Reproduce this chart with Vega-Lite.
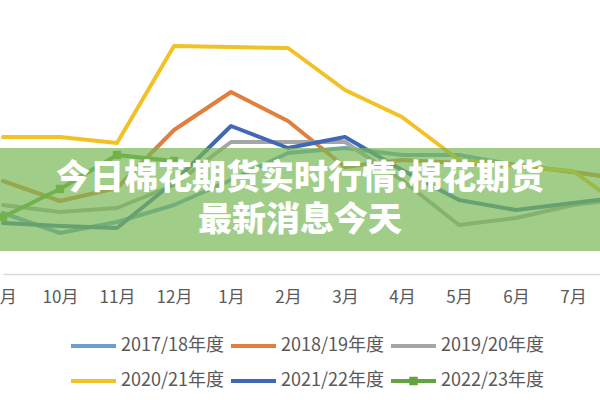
{
  "$schema": "https://vega.github.io/schema/vega-lite/v6.json",
  "width": 600,
  "height": 274,
  "autosize": {"type": "none"},
  "padding": {"left": 0, "top": 0, "right": 0, "bottom": 126},
  "background": "white",
  "config": {"view": {"stroke": null}, "font": "Noto Sans CJK SC"},
  "data": {
    "values": [
      {"season": "2017/18年度", "month": "9月", "value": 13050},
      {"season": "2017/18年度", "month": "10月", "value": 12050},
      {"season": "2017/18年度", "month": "11月", "value": 12600},
      {"season": "2017/18年度", "month": "12月", "value": 13450},
      {"season": "2017/18年度", "month": "1月", "value": 14700},
      {"season": "2017/18年度", "month": "2月", "value": 16050},
      {"season": "2017/18年度", "month": "3月", "value": 16300},
      {"season": "2017/18年度", "month": "4月", "value": 15950},
      {"season": "2017/18年度", "month": "5月", "value": 15950},
      {"season": "2017/18年度", "month": "6月", "value": 15450},
      {"season": "2017/18年度", "month": "7月", "value": 15100},
      {"season": "2017/18年度", "month": "8月", "value": 14700},
      {"season": "2018/19年度", "month": "9月", "value": 14650},
      {"season": "2018/19年度", "month": "10月", "value": 13650},
      {"season": "2018/19年度", "month": "11月", "value": 14300},
      {"season": "2018/19年度", "month": "12月", "value": 17200},
      {"season": "2018/19年度", "month": "1月", "value": 19100},
      {"season": "2018/19年度", "month": "2月", "value": 17650},
      {"season": "2018/19年度", "month": "3月", "value": 15350},
      {"season": "2018/19年度", "month": "4月", "value": 15700},
      {"season": "2018/19年度", "month": "5月", "value": 15550},
      {"season": "2018/19年度", "month": "6月", "value": 15450},
      {"season": "2018/19年度", "month": "7月", "value": 15100},
      {"season": "2018/19年度", "month": "8月", "value": 14700},
      {"season": "2019/20年度", "month": "9月", "value": 13450},
      {"season": "2019/20年度", "month": "10月", "value": 13100},
      {"season": "2019/20年度", "month": "11月", "value": 13300},
      {"season": "2019/20年度", "month": "12月", "value": 14450},
      {"season": "2019/20年度", "month": "1月", "value": 16600},
      {"season": "2019/20年度", "month": "2月", "value": 16600},
      {"season": "2019/20年度", "month": "3月", "value": 16600},
      {"season": "2019/20年度", "month": "4月", "value": 14700},
      {"season": "2019/20年度", "month": "5月", "value": 12450},
      {"season": "2019/20年度", "month": "6月", "value": 12800},
      {"season": "2019/20年度", "month": "7月", "value": 13450},
      {"season": "2019/20年度", "month": "8月", "value": 13800},
      {"season": "2020/21年度", "month": "9月", "value": 16850},
      {"season": "2020/21年度", "month": "10月", "value": 16850},
      {"season": "2020/21年度", "month": "11月", "value": 16550},
      {"season": "2020/21年度", "month": "12月", "value": 21400},
      {"season": "2020/21年度", "month": "1月", "value": 21350},
      {"season": "2020/21年度", "month": "2月", "value": 21300},
      {"season": "2020/21年度", "month": "3月", "value": 19200},
      {"season": "2020/21年度", "month": "4月", "value": 17850},
      {"season": "2020/21年度", "month": "5月", "value": 15700},
      {"season": "2020/21年度", "month": "6月", "value": 15400},
      {"season": "2020/21年度", "month": "7月", "value": 15150},
      {"season": "2020/21年度", "month": "8月", "value": 13100},
      {"season": "2021/22年度", "month": "9月", "value": 12550},
      {"season": "2021/22年度", "month": "10月", "value": 12400},
      {"season": "2021/22年度", "month": "11月", "value": 12300},
      {"season": "2021/22年度", "month": "12月", "value": 14600},
      {"season": "2021/22年度", "month": "1月", "value": 17400},
      {"season": "2021/22年度", "month": "2月", "value": 16300},
      {"season": "2021/22年度", "month": "3月", "value": 16850},
      {"season": "2021/22年度", "month": "4月", "value": 15200},
      {"season": "2021/22年度", "month": "5月", "value": 13700},
      {"season": "2021/22年度", "month": "6月", "value": 13200},
      {"season": "2021/22年度", "month": "7月", "value": 13550},
      {"season": "2021/22年度", "month": "8月", "value": 13900},
      {"season": "2022/23年度", "month": "9月", "value": 12850},
      {"season": "2022/23年度", "month": "10月", "value": 14250},
      {"season": "2022/23年度", "month": "11月", "value": 15950},
      {"season": "2022/23年度", "month": "12月", "value": 15650}
    ]
  },
  "layer": [
    {
      "mark": {"type": "line", "strokeWidth": 4, "strokeCap": "round", "strokeJoin": "round"},
      "encoding": {
        "x": {
          "field": "month",
          "type": "ordinal",
          "scale": {"type": "point", "domain": ["9月", "10月", "11月", "12月", "1月", "2月", "3月", "4月", "5月", "6月", "7月", "8月"], "range": [3, 630], "padding": 0},
          "axis": {"title": null, "domainColor": "#d9d9d9", "domainWidth": 1.5, "ticks": false, "grid": false, "labelFontSize": 17, "labelColor": "#595959", "labelPadding": 15, "labelAngle": 0, "labelOverlap": false, "labelFlush": false}
        },
        "y": {
          "field": "value",
          "type": "quantitative",
          "scale": {"domain": [10000, 23700], "nice": false, "zero": false},
          "axis": null
        },
        "color": {
          "field": "season",
          "type": "nominal",
          "scale": {
            "domain": ["2017/18年度", "2018/19年度", "2019/20年度", "2020/21年度", "2021/22年度", "2022/23年度"],
            "range": ["#6a9fcf", "#e07f3e", "#a5a5a5", "#f2c125", "#4168b4", "#64a33f"]
          },
          "legend": {
            "title": null,
            "orient": "none",
            "legendX": 69,
            "legendY": 337,
            "direction": "horizontal",
            "columns": 3,
            "symbolType": "stroke",
            "symbolSize": 2025,
            "symbolStrokeWidth": 4,
            "clipHeight": 18,
            "labelFontSize": 18,
            "labelColor": "#595959",
            "labelOffset": 3,
            "columnPadding": 5,
            "rowPadding": 17,
            "labelLimit": 0,
            "padding": 0,
            "encode": {
              "symbols": {
                "update": {
                  "shape": {"signal": "datum.value === '2022/23年度' ? 'M-1,0H1M-0.1,-0.1H0.1V0.1H-0.1Z' : 'stroke'"},
                  "fill": {"signal": "datum.value === '2022/23年度' ? '#64a33f' : 'transparent'"}
                }
              }
            }
          }
        }
      }
    },
    {
      "transform": [{"filter": "datum.season === '2022/23年度'"}],
      "mark": {"type": "point", "shape": "square", "filled": true, "size": 70, "color": "#64a33f", "opacity": 1},
      "encoding": {
        "x": {"field": "month", "type": "ordinal"},
        "y": {"field": "value", "type": "quantitative"}
      }
    },
    {
      "data": {"values": [{"caption": "今日棉花期货实时行情:棉花期货\n最新消息今天"}]},
      "mark": {"type": "rect", "color": "#77b854", "opacity": 0.7},
      "encoding": {
        "y": {"datum": 16300, "type": "quantitative"},
        "y2": {"datum": 11150}
      }
    },
    {
      "data": {"values": [{"caption": "今日棉花期货实时行情:棉花期货\n最新消息今天"}]},
      "mark": {"type": "text", "color": "white", "fontSize": 34, "fontWeight": 900, "lineBreak": "\n", "lineHeight": 42, "baseline": "middle", "align": "center"},
      "encoding": {
        "y": {"datum": 14750, "type": "quantitative"},
        "text": {"field": "caption"}
      }
    }
  ]
}
